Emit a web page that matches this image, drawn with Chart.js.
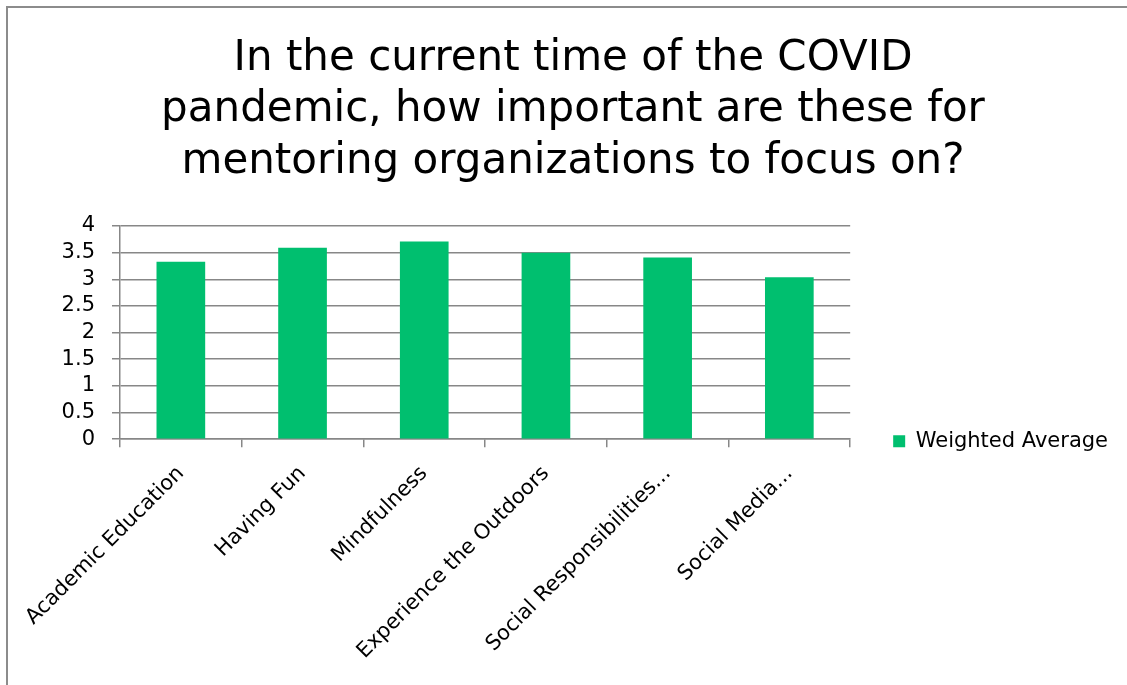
<!DOCTYPE html>
<html>
<head>
<meta charset="utf-8">
<script src="https://cdn.jsdelivr.net/npm/chart.js@4"></script>
<style>
  html, body { margin: 0; padding: 0; background: #fff; overflow: hidden; }
  .frame {
    position: absolute; left: 6px; top: 6px; width: 1200px; height: 800px;
    border-left: 2px solid #8c8c8c; border-top: 2px solid #8c8c8c;
  }
  .wrap { position: absolute; left: 0; top: 0; width: 1118px; height: 685px; }
</style>
</head>
<body>
<div class="frame"></div>
<div class="wrap"><canvas id="grafico"></canvas></div>
<script>
// categorias e médias ponderadas
const categorias = [
    'Academic Education',
    'Having Fun',
    'Mindfulness',
    'Experience the Outdoors',
    'Social Responsibilities...',
    'Social Media...'
];
const mediaPonderada = [3.33, 3.59, 3.71, 3.50, 3.41, 3.04];
const ticksY = [0, 0.5, 1, 1.5, 2, 2.5, 3, 3.5, 4];

const titulo = [
    'In the current time of the COVID',
    'pandemic, how important are these for',
    'mentoring organizations to focus on?'
];

const corBarra = '#00bf6f';
const corGrade = '#878787';
const fonteEixo = '"DejaVu Sans", sans-serif';

// legenda alinhada com a linha do zero
const legendaNoZero = {
    id: 'legendaNoZero',
    afterLayout(chart) {
        const lg = chart.legend;
        const h = lg.bottom - lg.top;
        const alvo = chart.scales.y.getPixelForValue(0) + 2;
        lg.top = alvo - h / 2;
        lg.bottom = alvo + h / 2;
    }
};

const ctx = document.getElementById('grafico');

new Chart(ctx, {
    type: 'bar',
    data: {
        labels: categorias,
        datasets: [{
            label: 'Weighted Average',
            data: mediaPonderada,
            backgroundColor: corBarra,
            categoryPercentage: 1,
            barPercentage: 0.4
        }]
    },
    plugins: [legendaNoZero],
    options: {
        responsive: true,
        maintainAspectRatio: false,
        animation: false,
        layout: {
            padding: { left: 28, right: 0, top: 33, bottom: 7 }
        },
        plugins: {
            title: {
                display: true,
                text: titulo,
                color: '#000',
                font: { family: '"DejaVu Sans", sans-serif', size: 42, weight: 'normal', lineHeight: 1.23 },
                padding: { top: 0, bottom: 38 }
            },
            legend: {
                position: 'right',
                labels: {
                    color: '#000',
                    font: { family: fonteEixo, size: 21 },
                    boxWidth: 12,
                    boxHeight: 12,
                    padding: 43
                }
            },
            tooltip: { enabled: false }
        },
        scales: {
            x: {
                offset: true,
                afterFit: (scale) => {
                    // o rótulo inclinado pode sair pela esquerda
                    scale.paddingLeft = 0;
                    scale.paddingRight = 0;
                },
                grid: {
                    offset: true,
                    drawOnChartArea: false,
                    drawTicks: true,
                    tickLength: 8,
                    color: corGrade,
                    lineWidth: 1.5
                },
                border: { color: corGrade, width: 1.5 },
                ticks: {
                    color: '#000',
                    font: { family: fonteEixo, size: 21 },
                    minRotation: 45,
                    maxRotation: 45,
                    autoSkip: false,
                    padding: 14
                }
            },
            y: {
                min: 0,
                max: 4,
                afterBuildTicks: (scale) => {
                    scale.ticks = ticksY.map(v => ({ value: v }));
                },
                afterFit: (scale) => { scale.width = 92; },
                grid: {
                    color: corGrade,
                    lineWidth: 1.5,
                    tickLength: 8
                },
                border: { color: corGrade, width: 1.5 },
                ticks: {
                    color: '#000',
                    font: { family: fonteEixo, size: 21 },
                    padding: 17,
                    autoSkip: false,
                    callback: (v) => String(v)
                }
            }
        }
    }
});
</script>
</body>
</html>
